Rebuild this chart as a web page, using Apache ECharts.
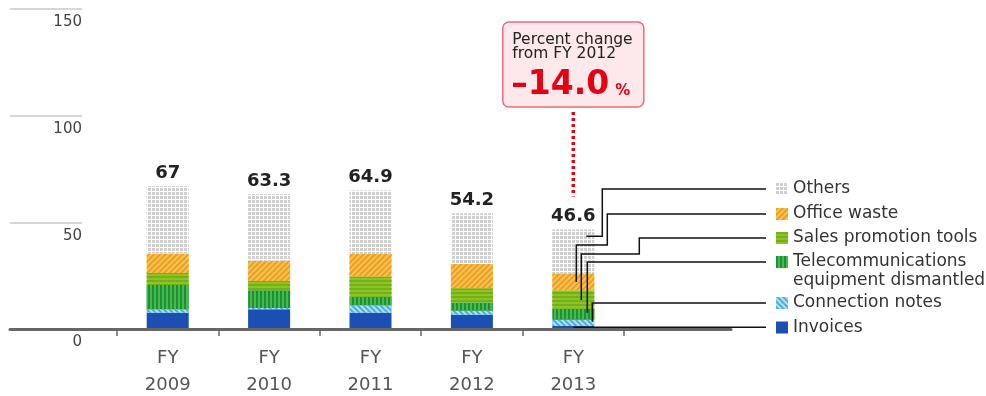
<!DOCTYPE html>
<html><head><meta charset="utf-8">
<script src="https://cdn.jsdelivr.net/npm/echarts@6/dist/echarts.min.js"></script>
<style>html,body{margin:0;padding:0;background:#fff}#c{width:986px;height:396px}</style>
</head><body><div id="c"></div>
<script>
// ---- data ----
const years = ['2009', '2010', '2011', '2012', '2013'];
const categories = years.map(y => 'FY\n' + y);
const invoices         = [7.6, 9.2, 7.6, 6.7, 1.4];
const connectionNotes  = [1.6, 0.6, 3.5, 1.9, 2.9];
const telecomEquipment = [11.4, 8.4, 4.0, 3.8, 5.2];
const salesPromotion   = [5.6, 4.3, 9.5, 6.7, 8.7];
const officeWaste      = [9.2, 9.5, 10.6, 11.4, 7.9];
const others           = [31.6, 31.3, 29.7, 23.7, 20.5];
const totals           = [67, 63.3, 64.9, 54.2, 46.6];
const yTickValues      = [0, 50, 100, 150];
const seriesNames = ['Invoices', 'Connection notes', 'Telecommunications equipment dismantled',
                     'Sales promotion tools', 'Office waste', 'Others'];
const calloutTitle = 'Percent change\nfrom FY 2012';

// ---- styles ----
const FONT = 'DejaVu Sans';
const styles = [
  { color: '#1b4fb4', decal: null },
  { color: '#4aaddb', decal: { symbol: 'rect', symbolSize: 1, dashArrayX: [1, 0], dashArrayY: [2, 2], rotation: Math.PI / 4, color: '#b4e0f4' } },
  { color: '#179239', decal: { symbol: 'rect', symbolSize: 1, dashArrayX: [1, 0], dashArrayY: [2, 2], rotation: Math.PI / 2, color: '#4cb84a' } },
  { color: '#8dc422', decal: { symbol: 'rect', symbolSize: 1, dashArrayX: [1, 0], dashArrayY: [2, 2], rotation: 0, color: '#72b01c' } },
  { color: '#f7c647', decal: { symbol: 'rect', symbolSize: 1, dashArrayX: [1, 0], dashArrayY: [2, 2], rotation: -Math.PI / 4, color: '#ee9b2e' } },
  { color: '#ffffff', decal: { symbol: 'rect', symbolSize: 1, dashArrayX: [3, 1], dashArrayY: [3, 1], color: '#cfcfcf' } }
];
const segData = [invoices, connectionNotes, telecomEquipment, salesPromotion, officeWaste, others];

const series = segData.map((d, i) => {
  const s = {
    name: seriesNames[i], type: 'bar', stack: 'total', data: d, barWidth: 42,
    xAxisIndex: 0, yAxisIndex: 0, z: 2,
    itemStyle: { color: styles[i].color },
    emphasis: { disabled: true }
  };
  if (styles[i].decal) s.itemStyle.decal = styles[i].decal;
  if (i === segData.length - 1) {
    s.label = {
      show: true, position: 'top', distance: 4,
      formatter: p => String(totals[p.dataIndex]),
      fontFamily: FONT, fontWeight: 'bold', fontSize: 18, color: '#222'
    };
  }
  return s;
});

// legend rows (icon centre y), one legend component per item
const legendRows = [327.5, 303, 262, 238, 214, 189];
const legends = seriesNames.map((n, i) => {
  const twoLine = i === 2;
  const h = twoLine ? 57 : 19;
  return {
    data: [n], left: 776, top: legendRows[i] - h / 2, padding: 0,
    orient: 'vertical', icon: 'rect', itemWidth: 12, itemHeight: 12, selectedMode: false,
    formatter: twoLine ? () => '\nTelecommunications\nequipment dismantled' : '{name}',
    textStyle: { fontFamily: FONT, fontSize: 17, lineHeight: 19, color: '#333' }
  };
});

const option = {
  animation: false,
  textStyle: { fontFamily: FONT },
  grid: [
    { left: 117, width: 507, top: 9, height: 320, outerBoundsMode: 'none', containLabel: false },
    { left: 10, width: 721, top: 9, height: 320, outerBoundsMode: 'none', containLabel: false },
    { left: 10, width: 72, top: 9, height: 320, outerBoundsMode: 'none', containLabel: false }
  ],
  xAxis: [
    { type: 'category', gridIndex: 0, data: categories,
      axisLine: { show: false },
      axisTick: { show: true, alignWithLabel: false, length: 7, lineStyle: { color: '#666', width: 1.5 } },
      axisLabel: { fontSize: 18, lineHeight: 27, color: '#555', margin: 16, fontFamily: FONT } },
    { type: 'value', gridIndex: 1, min: 0, max: 1, z: 5,
      axisLine: { show: true, lineStyle: { color: '#666', width: 3 } },
      axisTick: { show: false }, axisLabel: { show: false }, splitLine: { show: false } },
    { type: 'value', gridIndex: 2, min: 0, max: 1, show: false }
  ],
  yAxis: [
    { type: 'value', gridIndex: 0, min: 0, max: 150, interval: 50, show: false, splitLine: { show: false } },
    { type: 'value', gridIndex: 1, min: 0, max: 150, show: false, splitLine: { show: false } },
    { type: 'value', gridIndex: 2, min: yTickValues[0], max: yTickValues[yTickValues.length - 1], interval: 50,
      position: 'right',
      axisLine: { show: false }, axisTick: { show: false },
      splitLine: { show: true, lineStyle: { color: '#c8c8c8', width: 1.5 } },
      axisLabel: { inside: true, margin: 0, align: 'right', verticalAlign: 'top', padding: [6, 0, 0, 0],
                   fontSize: 15, color: '#444', fontFamily: FONT } }
  ],
  legend: legends,
  series: series
};

const chart = echarts.init(document.getElementById('c'));
chart.setOption(option);

// ---- annotations anchored to the FY 2013 bar through the chart's scales ----
const last = years.length - 1;
const px = v => chart.convertToPixel({ seriesIndex: 0 }, [last, v]);
const bases = [];
let acc = 0;
segData.forEach(d => { bases.push(acc); acc += d[last]; });
const yIn = (i, f) => px(bases[i] + f * segData[i][last])[1];
const topPt = px(totals[last]);
const cx = topPt[0], yTop = topPt[1];
const xr = 766;
const leaders = [
  [[xr, 189], [cx + 29, 189], [cx + 29, yIn(5, 0.85)], [cx + 13, yIn(5, 0.85)]],
  [[xr, 214], [cx + 34, 214], [cx + 34, 245], [cx + 3, 245], [cx + 3, yIn(4, 0.48)]],
  [[xr, 238], [cx + 66, 238], [cx + 66, 254], [cx + 8, 254], [cx + 8, yIn(3, 0.47)]],
  [[xr, 262], [cx + 14, 262], [cx + 14, yIn(2, 0.63)]],
  [[xr, 303], [cx + 19, 303], [cx + 19, yIn(1, 0.7)]],
  [[xr, yIn(0, 0.6)], [cx, yIn(0, 0.6)]]
];
const pct = ((totals[last] - totals[last - 1]) / totals[last - 1] * 100).toFixed(1).replace('-', '–');

chart.setOption({
  graphic: [
    ...leaders.map(pts => ({ type: 'polyline', silent: true, z: 20,
      shape: { points: pts }, style: { stroke: '#111', lineWidth: 1.5, fill: null } })),
    { type: 'line', silent: true, z: 20,
      shape: { x1: cx, y1: 112, x2: cx, y2: yTop - 33 },
      style: { stroke: '#e60012', lineWidth: 3.5, lineDash: [3, 3] } },
    { type: 'rect', silent: true, z: 20,
      shape: { x: cx - 70.5, y: 22, width: 141, height: 85, r: 6 },
      style: { fill: '#fde8eb', stroke: '#ef6b7c', lineWidth: 1.5 } },
    { type: 'text', silent: true, z: 21, x: cx - 61, y: 33,
      style: { text: calloutTitle, fontFamily: FONT, fontSize: 15.5, lineHeight: 14, fill: '#222', verticalAlign: 'top' } },
    { type: 'text', silent: true, z: 21, x: cx - 62, y: 85,
      style: { text: pct, fontFamily: FONT, fontWeight: 'bold', fontSize: 33, fill: '#e60012', verticalAlign: 'middle' } },
    { type: 'text', silent: true, z: 21, x: cx + 42, y: 91,
      style: { text: '%', fontFamily: FONT, fontWeight: 'bold', fontSize: 15, fill: '#e60012', verticalAlign: 'middle' } }
  ]
});
</script>
</body></html>
